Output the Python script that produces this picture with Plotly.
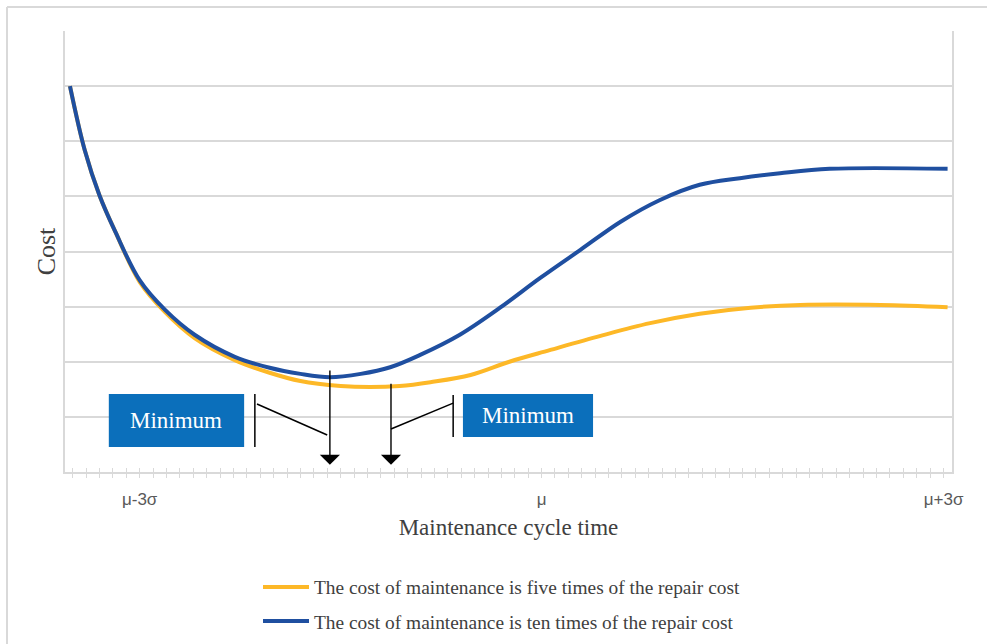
import plotly.graph_objects as go

# ---- data (x in sigma units relative to mu, y in cost units) ----
x_five = [-3.52, -3.41, -3.30, -3.18, -3.00, -2.81, -2.59, -2.29, -2.03, -1.80, -1.50, -1.28,
          -1.06, -0.83, -0.53, -0.24, 0.06, 0.44, 0.81, 1.18, 1.56, 1.93, 2.53, 3.03]
y_five = [7.00, 5.84, 5.02, 4.35, 3.45, 2.90, 2.43, 2.03, 1.80, 1.65, 1.56, 1.54,
          1.56, 1.63, 1.76, 2.00, 2.21, 2.47, 2.70, 2.87, 2.98, 3.03, 3.03, 2.99]

x_ten = [-3.52, -3.41, -3.30, -3.18, -3.00, -2.81, -2.59, -2.29, -2.03, -1.80, -1.58, -1.35,
         -1.13, -0.91, -0.61, -0.31, -0.01, 0.29, 0.59, 0.88, 1.18, 1.48, 1.78, 2.15, 3.03]
y_ten = [7.00, 5.84, 5.02, 4.35, 3.48, 2.94, 2.49, 2.09, 1.89, 1.78, 1.72, 1.78,
         1.90, 2.12, 2.49, 2.98, 3.52, 4.03, 4.54, 4.93, 5.21, 5.33, 5.42, 5.50, 5.50]

tick_vals = [-3, 0, 3]
tick_text = ["μ-3σ", "μ", "μ+3σ"]

name_five = "The cost of maintenance is five times of the repair cost"
name_ten = "The cost of maintenance is ten times of the repair cost"

YELLOW = "#FDB827"
BLUE = "#1F4FA0"
BOX = "#0B6FBB"
GRID = "#D9D9D9"
SERIF = "Liberation Serif, Times New Roman, serif"
SANS = "Liberation Sans, Arial, sans-serif"

XR = [-3.557, 3.063]

fig = go.Figure()
fig.add_trace(go.Scatter(x=x_five, y=y_five, mode="lines", name=name_five,
                         line=dict(color=YELLOW, width=4, shape="spline", smoothing=1.0),
                         legendgroup="a"))
fig.add_trace(go.Scatter(x=x_ten, y=y_ten, mode="lines", name=name_ten,
                         line=dict(color=BLUE, width=4, shape="spline", smoothing=1.0),
                         legendgroup="b"))
# invisible helper trace so the overlaid tick axis (inner half of the crossing ticks) is drawn
fig.add_trace(go.Scatter(x=tick_vals, y=[None] * len(tick_vals), xaxis="x2", mode="lines",
                         showlegend=False, hoverinfo="skip"))

fig.update_layout(
    width=987, height=644,
    margin=dict(l=65, r=35, t=31, b=172, autoexpand=False),
    paper_bgcolor="white", plot_bgcolor="white",
    showlegend=True,
    legend=dict(x=0.2176, xanchor="left", yref="container", y=0.005, yanchor="bottom",
                font=dict(family=SERIF, size=19.4, color="#404040"),
                tracegroupgap=6, itemwidth=46, bgcolor="rgba(0,0,0,0)"),
    xaxis=dict(range=XR, tickvals=tick_vals, ticktext=tick_text,
               ticks="outside", ticklen=4, tickcolor=GRID, tickwidth=1,
               minor=dict(dtick=0.1, tick0=-3.5, ticks="outside", ticklen=4,
                          tickcolor=GRID, tickwidth=1, showgrid=False),
               showgrid=False, zeroline=False, showline=True, linecolor=GRID, linewidth=2,
               ticklabelstandoff=7,
               tickfont=dict(family=SANS, size=17, color="#595959"),
               title=dict(text="Maintenance cycle time", standoff=10,
                          font=dict(family=SERIF, size=23, color="#404040"))),
    xaxis2=dict(overlaying="x", anchor="y", side="bottom", range=XR,
                tick0=-3.5, dtick=0.1, ticks="inside", ticklen=4, tickcolor=GRID,
                showticklabels=False, showgrid=False, zeroline=False, showline=False),
    yaxis=dict(range=[0, 8], dtick=1, showticklabels=False, ticks="",
               showgrid=True, gridcolor=GRID, gridwidth=1.5, zeroline=False,
               showline=True, linecolor=GRID, linewidth=2, mirror=True,
               title=dict(text="Cost", standoff=0,
                          font=dict(family=SERIF, size=26, color="#404040"))),
)

# outer chart border (top and left edges visible)
fig.add_shape(type="line", xref="paper", yref="paper", x0=-0.0654, x1=1.1, y0=1.0544, y1=1.0544,
              line=dict(color=GRID, width=2))
fig.add_shape(type="line", xref="paper", yref="paper", x0=-0.0654, x1=-0.0654, y0=1.0544, y1=-0.5,
              line=dict(color=GRID, width=2))

# "Minimum" boxes
fig.add_shape(type="rect", x0=-3.23, x1=-2.22, y0=0.454, y1=1.415,
              fillcolor=BOX, line=dict(width=0), layer="above")
fig.add_shape(type="rect", x0=-0.587, x1=0.384, y0=0.635, y1=1.415,
              fillcolor=BOX, line=dict(width=0), layer="above")
fig.add_annotation(x=-2.725, y=0.935, text="Minimum", showarrow=False,
                   font=dict(family=SERIF, size=23, color="white"))
fig.add_annotation(x=-0.10, y=1.025, text="Minimum", showarrow=False,
                   font=dict(family=SERIF, size=23, color="white"))

# callout brackets
K = dict(color="black", width=1.5)
fig.add_shape(type="line", x0=-2.14, x1=-2.14, y0=0.454, y1=1.415, line=K)
fig.add_shape(type="line", x0=-2.124, x1=-1.60, y0=1.234, y1=0.671, line=K)
fig.add_shape(type="line", x0=-1.124, x1=-0.66, y0=0.78, y1=1.25, line=K)
fig.add_shape(type="line", x0=-0.66, x1=-0.66, y0=0.635, y1=1.397, line=K)

# arrows
for xa, ytop in [(-1.58, 1.87), (-1.124, 1.63)]:
    fig.add_annotation(x=xa, y=0.13, ax=xa, ay=ytop, axref="x", ayref="y",
                       xref="x", yref="y", text="", showarrow=True,
                       arrowhead=1, arrowsize=2.4, arrowwidth=1.4, arrowcolor="black")

fig.write_html("out.html", config={"displayModeBar": False},
               post_script="document.body.style.margin='0';")
